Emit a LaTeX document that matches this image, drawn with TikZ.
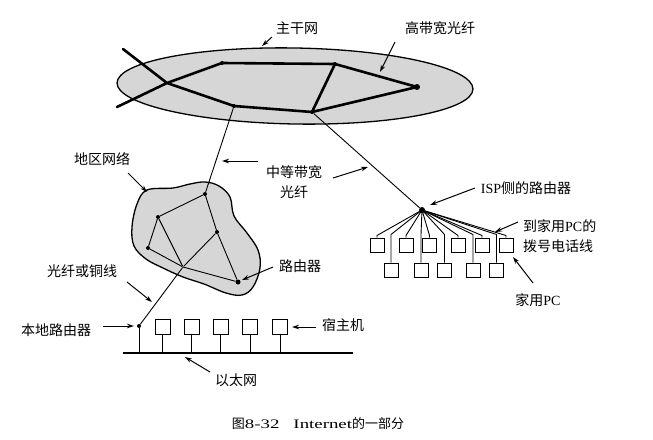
\documentclass[tikz,border=0pt]{standalone}
\usepackage{fontspec}
\usepackage{graphicx}
\setmainfont{Liberation Serif}
\newfontfamily\cjk{Noto Sans CJK SC}
\usetikzlibrary{arrows.meta}
\definecolor{fillgray}{HTML}{D6D6D6}
\begin{document}
\begin{tikzpicture}[x=1pt,y=-1pt,
  lbl/.style={font=\cjk\fontsize{14}{20}\selectfont, inner sep=0pt},
  arr/.style={-{Stealth[length=7pt,width=4.5pt]}, line width=1pt},
  bb/.style={line width=2.6pt, line join=round, line cap=round},
  ln/.style={line width=0.9pt, line join=round},
  dot/.style={circle, fill=black, inner sep=0pt, minimum size=4pt},
  bigdot/.style={circle, fill=black, inner sep=0pt, minimum size=6pt},
  pcbox/.style={draw, fill=white, line width=1pt, minimum size=14pt, inner sep=0pt},
  hostbox/.style={draw, fill=white, line width=1pt, minimum size=15pt, inner sep=0pt}]
\useasboundingbox (0,0) rectangle (653,439);

% ---------- backbone ----------
\draw[fill=fillgray, line width=1.3pt, rotate around={-1:(295,86)}] (295,86) ellipse [x radius=178, y radius=38];
\coordinate (tl) at (123,49);
\coordinate (bl) at (117,107);
\node[dot, minimum size=2pt] (X) at (167,83) {};
\node[dot] (A) at (222,63) {};
\node[dot] (B) at (335,64) {};
\node[bigdot] (C) at (417,87) {};
\node[dot] (D) at (312,112) {};
\node[dot] (E) at (234,106) {};
\draw[bb] (tl) -- (X.center) -- (E.center) -- (D.center) -- (C.center) -- (B.center) -- (A.center) -- (X.center) -- (bl);
\draw[bb] (B.center) -- (D.center);

% ---------- regional network ----------
\draw[fill=fillgray, line width=1.3pt] plot[smooth cycle, tension=0.6] coordinates {
 (147,190) (173,188) (190,184) (205,182) (219,186) (230,197) (234,216) (247,233) (258,250)
 (260,268) (253,287) (242,295) (226,293) (204,284) (183,277) (163,268) (146,259) (134,246) (132,227) (137,204)};
\node[dot] (T) at (205,194) {};
\node[dot] (L1) at (158,217) {};
\node[dot] (L2) at (148,248) {};
\node[dot] (M) at (217,232) {};
\node[dot, minimum size=2pt] (Cc) at (183,267) {};
\node[bigdot, minimum size=5pt] (R) at (238,282) {};
\draw[ln] (T) -- (L1) -- (L2) -- (Cc) -- (R) -- (M) -- (T);
\draw[ln] (L1) -- (Cc);
\draw[ln] (M) -- (Cc);
\draw[ln] (E) -- (T);

% ---------- LAN ----------
\node[dot] (lr) at (139,326) {};
\draw[ln] (Cc) -- (lr);
\coordinate (busL) at (123,353);
\coordinate (busR) at (353,353);
\draw[line width=2pt] (busL) -- (busR);
\draw[ln] (lr) -- (lr |- busL);
\foreach \i/\x in {1/162.5,2/191.5,3/220.5,4/250,5/280}{
  \node[hostbox] (h\i) at (\x,326.5) {};
  \draw[ln] (h\i.south) -- (h\i.south |- busL);
}

% ---------- ISP ----------
\node[bigdot] (isp) at (422,210) {};
\draw[ln] (D) -- (isp);
\foreach \i/\x in {1/377,2/406,3/429.5,4/458,5/482,6/506}{
  \node[pcbox] (t\i) at (\x,245) {};
  \draw[ln] (isp.center) -- ([yshift=2pt]t\i.north) -- (t\i.north);
}
\foreach \i/\x in {1/391,2/421,3/444.5,4/473,5/496.5}{
  \node[pcbox] (b\i) at (\x,270) {};
  \draw[ln] (isp.center) -- ([yshift=28pt]b\i.north) -- (b\i.north);
}

% ---------- labels ----------
\node[lbl] (lMain) at (297,28) {主干网};
\node[lbl] (lFiber) at (440,28) {高带宽光纤};
\node[lbl, align=center] (lMid) at (294,182) {中等带宽\\光纤};
\node[lbl] (lReg) at (102,159) {地区网络};
\node[lbl] (lCu) at (82,271) {光纤或铜线};
\node[lbl] (lRt) at (300,266) {路由器};
\node[lbl] (lIsp) at (526,188) {{\rmfamily ISP}侧的路由器};
\node[lbl, align=left, anchor=west] (lDial) at (523,236) {到家用{\rmfamily PC}的\\拨号电话线};
\node[lbl] (lPC) at (538,300) {家用{\rmfamily PC}};
\node[lbl] (lLoc) at (56,330) {本地路由器};
\node[lbl] (lHost) at (343,325) {宿主机};
\node[lbl] (lEth) at (236,380) {以太网};
\node[font=\fontsize{13}{15}\selectfont, inner sep=0pt] (cap) at (318,424)
  {{\cjk 图}\scalebox{1.45}[1]{8-32}\hspace{14pt}\scalebox{1.45}[1]{Internet}{\cjk 的一部分}};

% ---------- pointer arrows ----------
\coordinate (s1) at (272,37);  \coordinate (e1) at (262,46);
\coordinate (s2) at (395,42);  \coordinate (e2) at (380,72);
\coordinate (s3) at (258,161); \coordinate (e3) at (222,161);
\coordinate (s4) at (333,178); \coordinate (e4) at (368,167);
\coordinate (s5) at (128,173); \coordinate (e5) at (147,192);
\coordinate (s6) at (127,282); \coordinate (e6) at (152,302);
\coordinate (s7) at (273,267); \coordinate (e7) at (242,280);
\coordinate (s8) at (475,188); \coordinate (e8) at (430,205);
\coordinate (s9) at (518,222); \coordinate (e9) at (495,232);
\coordinate (s10) at (533,283); \coordinate (e10) at (513,257);
\coordinate (s11) at (103,326); \coordinate (e11) at (134,326);
\coordinate (s12) at (316,327); \coordinate (e12) at (292,327);
\coordinate (s13) at (210,372); \coordinate (e13) at (185,357);
\foreach \k in {1,...,13}{ \draw[arr] (s\k) -- (e\k); }
\end{tikzpicture}
\end{document}
